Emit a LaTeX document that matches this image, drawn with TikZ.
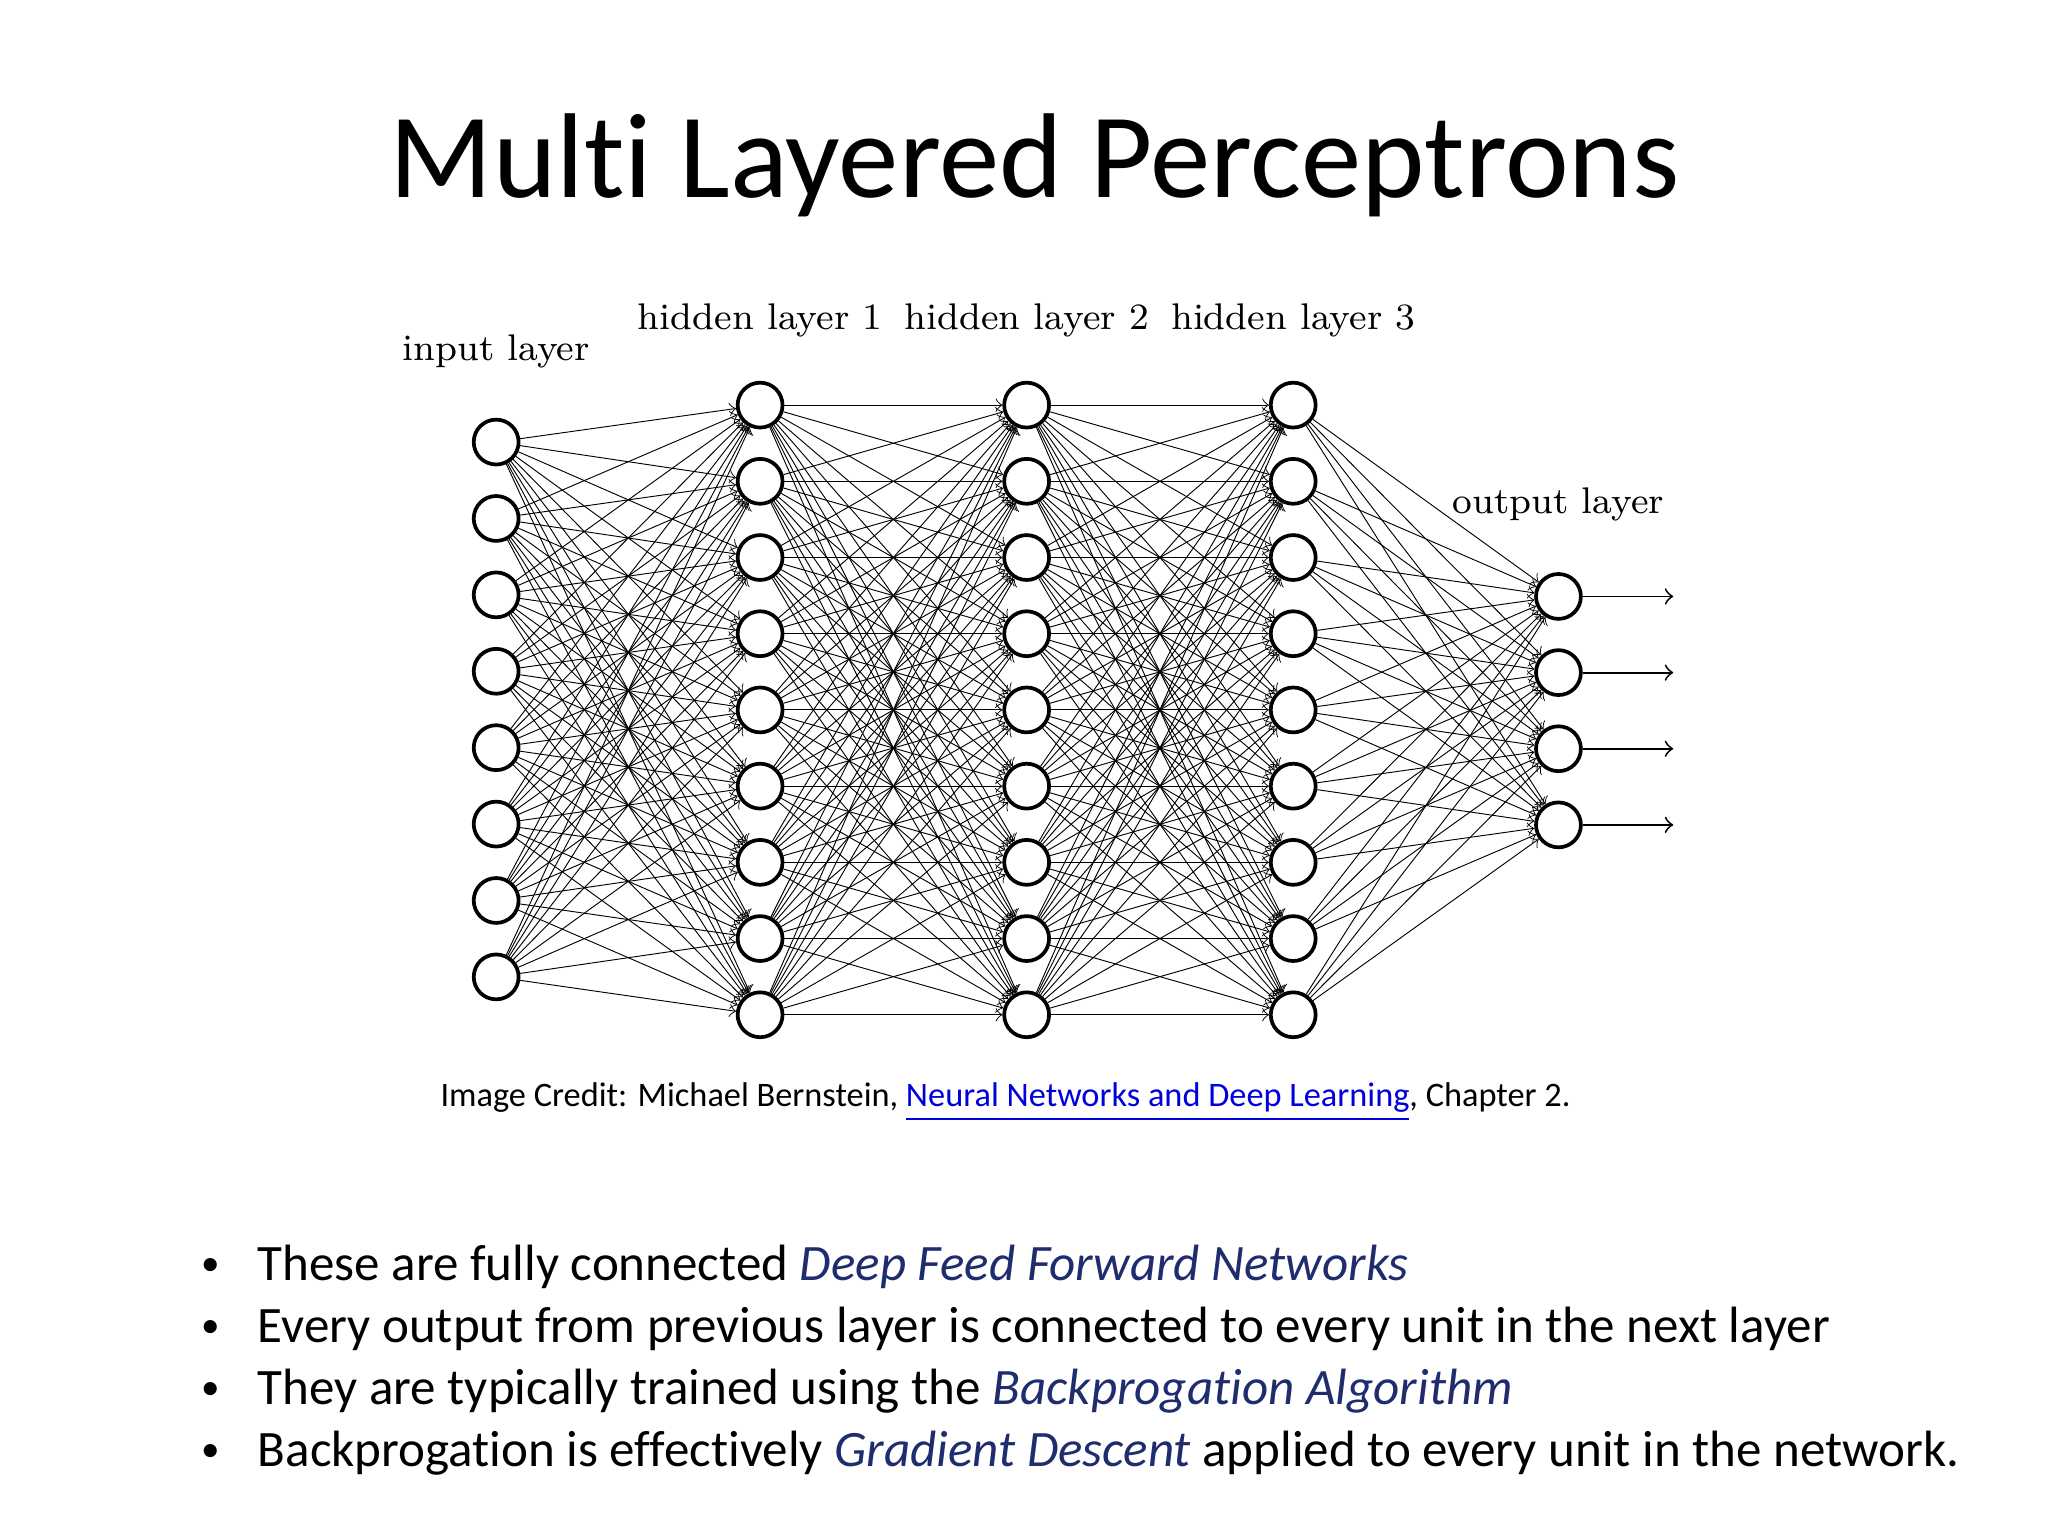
\documentclass[tikz,border=0pt]{standalone}
\usepackage{fontspec}
\setmainfont{Carlito}[Ligatures=NoCommon]
\newfontfamily\lmfont{Latin Modern Roman}
\usetikzlibrary{positioning}
\definecolor{navyblue}{RGB}{31,45,110}
\definecolor{linkblue}{RGB}{0,0,220}
\tikzset{neuron/.style={circle, draw, thick, minimum size=0.34cm, inner sep=0pt},
  layerlabel/.style={font=\lmfont\fontsize{8}{10}\selectfont},
  bulletline/.style={anchor=west, font=\fontsize{11}{13}\selectfont}}
\begin{document}
\begin{tikzpicture}[x=0.01cm, y=-0.01cm]
	\useasboundingbox (0,0) rectangle (1552,1164);
	
	% Title
	\node[font=\fontsize{26}{30}\selectfont] (title) at (784,125) {Multi Layered Perceptrons};
	
	% Neurons
	\foreach \i in {1,...,8}
	\node[neuron] (in\i) at (376,{335+(\i-1)*57.9}) {};
	\foreach \l/\x in {1/576,2/778,3/980}
	\foreach \i in {1,...,9}
	\node[neuron] (h\l-\i) at (\x,{307+(\i-1)*57.75}) {};
	\foreach \i in {1,...,4}
	\node[neuron] (out\i) at (1181,{452+(\i-1)*57.7}) {};
	
	% Connections
	\foreach \i in {1,...,8}
	\foreach \j in {1,...,9}
	\draw[->, very thin] (in\i) -- (h1-\j);
	\foreach \i in {1,...,9}
	\foreach \j in {1,...,9}
	{\draw[->, very thin] (h1-\i) -- (h2-\j);
		\draw[->, very thin] (h2-\i) -- (h3-\j);}
	\foreach \i in {1,...,9}
	\foreach \j in {1,...,4}
	\draw[->, very thin] (h3-\i) -- (out\j);
	\foreach \i in {1,...,4}
	{\coordinate (end\i) at (1268,{452+(\i-1)*57.7});
		\draw[->] (out\i) -- (end\i);}
	
	% Labels
	\node[layerlabel] (inlabel) at (376,266) {input layer};
	\node[layerlabel] (h1label) at (576,243) {hidden layer 1};
	\node[layerlabel] (h2label) at (778,243) {hidden layer 2};
	\node[layerlabel] (h3label) at (980,243) {hidden layer 3};
	\node[layerlabel] (outlabel) at (1181,382) {output layer};
	
	% Credit
	\node[font=\fontsize{7.4}{9}\selectfont] (credit) at (762,835) {Image Credit: Michael Bernstein, \textcolor{linkblue}{\underline{Neural Networks and Deep Learning}}, Chapter 2.};
	
	% Bullets
	\foreach \y/\t in {960/{These are fully connected \textcolor{navyblue}{\itshape Deep Feed Forward Networks}},
		1007/{Every output from previous layer is connected to every unit in the next layer},
		1054/{They are typically trained using the \textcolor{navyblue}{\itshape Backprogation Algorithm}},
		1101/{Backprogation is effectively \textcolor{navyblue}{\itshape Gradient Descent} applied to every unit in the network.}}
	{\node[bulletline] at (140,\y) {\footnotesize\textbullet};
		\node[bulletline] at (183,\y) {\t};}
\end{tikzpicture}
\end{document}
